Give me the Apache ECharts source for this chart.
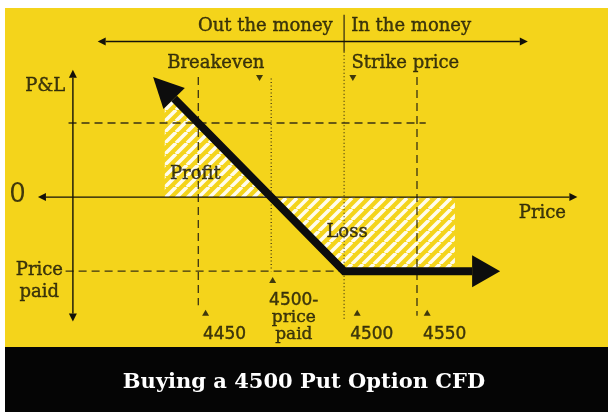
<!DOCTYPE html>
<html><head><meta charset="utf-8">
<script src="https://cdn.jsdelivr.net/npm/echarts@6/dist/echarts.min.js"></script>
<style>html,body{margin:0;padding:0;background:#fff}#c{width:608px;height:412px}</style>
</head><body><div id="c"></div>
<script>
// ---- Diagram data: x = underlying price, y = P&L (premium 50, strike 4500) ----
const strike = 4500;
const premium = 50;
const breakeven = 4450;
// payoff path of the long put (tip of arrow, kink at strike, right arrow end)
const payoffX = [4369, 4500, 4607];
const payoffY = [81, -50, -50];
// hatched areas
const profitX = [4377, 4377, 4450];
const profitY = [0, 73, 0];
const lossX = [4450, 4576, 4576, 4500];
const lossY = [0, 0, -50, -50];
// guide lines [x1, y1, x2, y2]
const dashedGuides = [[4400, 81, 4400, -73], [4550, 81, 4550, -80], [4311, 50, 4556, 50], [4309, -50, 4500, -50]];
const dottedGuides = [[4450, 80, 4450, -50], [4500, 98, 4500, -82]];
const solidGuides = [[4500, 123, 4500, 98]];
// thin double-headed arrows [x1, y1, x2, y2]
const axisArrows = [[4314, -84, 4314, 86], [4290, 0, 4660, 0], [4331, 105, 4626, 105]];
// text labels
const serifLabels = ['Out the money', 'In the money', 'Breakeven', 'Strike price', 'P&L', 'Price\npaid', 'Profit', 'Loss', 'Price'];
const serifX = [4446, 4546, 4412, 4542, 4295, 4291, 4398, 4502, 4636];
const serifY = [115, 115, 90.5, 90.5, 75, -56.6, 15.6, -23.5, -10.7];
const tickLabels = ['4450', '4500', '4550'];
const tickX = [4418, 4519, 4569];
const tickY = [-93, -93, -93];
const paidLabel = ['4500-', 'price', 'paid'];
const paidX = 4465.5, paidY = -81;
const zeroLabel = '0';
const zeroX = 4276, zeroY = 1;
const upMarks = [[4405, -78], [4451, -56], [4509, -78], [4557, -78]];
const downMarks = [[4442, 80.4], [4506, 80.4]];
const titleText = 'Buying a 4500 Put Option CFD';

// ---- rendering ----
const X0 = 4264, X1 = 4681, Y0 = -145, Y1 = 133;
const ink = '#131108';
const yellow = '#F4D41B';

function stripeCanvas() {
  const s = 11, c = document.createElement('canvas');
  c.width = s; c.height = s;
  const g = c.getContext('2d');
  g.strokeStyle = 'rgba(255,255,255,0.92)';
  g.lineWidth = 3.6;
  g.beginPath();
  for (let k = -1; k <= 1; k++) { g.moveTo(k * s, s); g.lineTo(k * s + s, 0); }
  g.stroke();
  return c;
}
const stripes = stripeCanvas();

function head(tip, from, len, half) {
  const dx = tip[0] - from[0], dy = tip[1] - from[1], d = Math.hypot(dx, dy);
  const ux = dx / d, uy = dy / d;
  const bx = tip[0] - ux * len, by = tip[1] - uy * len;
  return { base: [bx, by], poly: [tip, [bx - uy * half, by + ux * half], [bx + uy * half, by - ux * half]] };
}
function segSeries(data, dash, width) {
  return {
    type: 'custom', data: data, encode: { x: [0, 2], y: [1, 3] }, z: 3, silent: true,
    renderItem(params, api) {
      const a = api.coord([api.value(0), api.value(1)]), b = api.coord([api.value(2), api.value(3)]);
      return { type: 'line', shape: { x1: a[0], y1: a[1], x2: b[0], y2: b[1] },
        style: { stroke: '#3a3212', lineWidth: width, lineDash: dash } };
    }
  };
}
function textItems(names, xs, ys) {
  return names.map((n, i) => ({ name: n, value: [xs[i], ys[i]] }));
}
const heavy = { textBorderColor: ink, textBorderWidth: 0.4 };

const chart = echarts.init(document.getElementById('c'));
chart.setOption({
  animation: false,
  backgroundColor: '#ffffff',
  graphic: [
    { type: 'rect', z: -10, shape: { x: 5, y: 8, width: 603, height: 339 }, style: { fill: yellow } },
    { type: 'rect', z: -10, shape: { x: 5, y: 347, width: 603, height: 65 }, style: { fill: '#050505' } }
  ],
  title: {
    text: titleText, left: 'center', top: 367,
    textStyle: { color: '#ffffff', fontFamily: 'DejaVu Serif', fontWeight: 'bold', fontSize: 21 }
  },
  grid: { left: 0, right: 0, top: 0, bottom: 0 },
  xAxis: { type: 'value', min: X0, max: X1, show: false },
  yAxis: { type: 'value', min: Y0, max: Y1, show: false },
  series: [
    {
      type: 'custom', data: [0, 1], z: 2, silent: true,
      renderItem(params, api) {
        const xs = params.dataIndex === 0 ? profitX : lossX;
        const ys = params.dataIndex === 0 ? profitY : lossY;
        const p = xs.map((x, i) => api.coord([x, ys[i]]));
        return { type: 'polygon', shape: { points: p }, style: { fill: { image: stripes, repeat: 'repeat' } } };
      }
    },
    segSeries(dashedGuides, [8, 5], 1.3),
    segSeries(dottedGuides, [1, 2.5], 1.2),
    segSeries(solidGuides, null, 1.3),
    {
      type: 'custom', data: axisArrows, encode: { x: [0, 2], y: [1, 3] }, z: 4, silent: true,
      renderItem(params, api) {
        const a = api.coord([api.value(0), api.value(1)]), b = api.coord([api.value(2), api.value(3)]);
        const h1 = head(a, b, 8, 4), h2 = head(b, a, 8, 4);
        return { type: 'group', children: [
          { type: 'line', shape: { x1: h1.base[0], y1: h1.base[1], x2: h2.base[0], y2: h2.base[1] }, style: { stroke: ink, lineWidth: 1.4 } },
          { type: 'polygon', shape: { points: h1.poly }, style: { fill: ink } },
          { type: 'polygon', shape: { points: h2.poly }, style: { fill: ink } }
        ] };
      }
    },
    {
      type: 'custom', data: payoffX.map((x, i) => [x, payoffY[i]]), z: 5, silent: true,
      renderItem(params, api) {
        if (params.dataIndex !== 0) return null;
        const p = payoffX.map((x, i) => api.coord([x, payoffY[i]]));
        const n = p.length;
        const hA = head(p[0], p[1], 30, 15), hB = head(p[n - 1], p[n - 2], 28, 16);
        const line = [hA.base].concat(p.slice(1, n - 1), [hB.base]);
        return { type: 'group', children: [
          { type: 'polyline', shape: { points: line }, style: { stroke: '#0d0d0d', lineWidth: 8, lineJoin: 'miter', fill: null } },
          { type: 'polygon', shape: { points: hA.poly }, style: { fill: '#0d0d0d' } },
          { type: 'polygon', shape: { points: hB.poly }, style: { fill: '#0d0d0d' } }
        ] };
      }
    },
    {
      type: 'scatter', symbol: 'triangle', symbolSize: [7, 6], data: upMarks, z: 6, silent: true,
      itemStyle: { color: ink }
    },
    {
      type: 'scatter', symbol: 'triangle', symbolSize: [7, 6], symbolRotate: 180, data: downMarks, z: 6, silent: true,
      itemStyle: { color: ink }
    },
    {
      type: 'scatter', symbolSize: 0, data: textItems(serifLabels, serifX, serifY), z: 7, silent: true,
      label: Object.assign({ show: true, position: 'inside', formatter: p => p.name, color: ink,
        fontFamily: 'DejaVu Serif', fontSize: 18, lineHeight: 22, align: 'center', verticalAlign: 'middle' }, heavy)
    },
    {
      type: 'scatter', symbolSize: 0, data: textItems(tickLabels, tickX, tickY), z: 7, silent: true,
      label: Object.assign({ show: true, position: 'inside', formatter: p => p.name, color: ink,
        fontFamily: 'DejaVu Sans', fontSize: 17, align: 'center', verticalAlign: 'middle' }, heavy)
    },
    {
      type: 'scatter', symbolSize: 0, data: [{ name: paidLabel.join('\n'), value: [paidX, paidY] }], z: 7, silent: true,
      label: { show: true, position: 'inside', color: ink, align: 'center', verticalAlign: 'middle',
        formatter: () => '{n|' + paidLabel[0] + '}\n{s|' + paidLabel[1] + '}\n{s|' + paidLabel[2] + '}',
        rich: {
          n: Object.assign({ fontFamily: 'DejaVu Sans', fontSize: 17, lineHeight: 17, color: ink }, heavy),
          s: Object.assign({ fontFamily: 'DejaVu Serif', fontSize: 17, lineHeight: 17, color: ink }, heavy)
        } }
    },
    {
      type: 'scatter', symbolSize: 0, data: [{ name: zeroLabel, value: [zeroX, zeroY] }], z: 7, silent: true,
      label: { show: true, position: 'inside', formatter: p => p.name, color: ink,
        fontFamily: 'DejaVu Sans', fontSize: 26, align: 'center', verticalAlign: 'middle' }
    }
  ]
});
</script>
</body></html>
